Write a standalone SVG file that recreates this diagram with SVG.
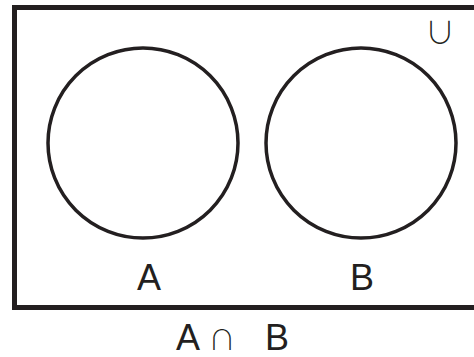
<svg xmlns="http://www.w3.org/2000/svg" width="474" height="357" viewBox="0 0 474 357">
<style>
.frame{fill:none;stroke:#231f20;stroke-width:5}
.set{fill:none;stroke:#231f20;stroke-width:3.5}
.lbl{font-family:"Liberation Sans",Arial,sans-serif;font-size:36px;fill:#231f20;text-anchor:middle}
.sym{font-family:"Noto Sans CJK JP","DejaVu Sans",sans-serif;font-weight:300;fill:#231f20;text-anchor:middle}
</style>
<rect width="474" height="357" fill="#fff"/>
<g id="universe">
<rect class="frame" x="14.5" y="7.5" width="470" height="300"/>
<text class="sym" x="440" y="43" font-size="30">∪</text>
</g>
<g id="setA">
<circle class="set" cx="143" cy="143" r="95"/>
<text class="lbl" x="149" y="290">A</text>
</g>
<g id="setB">
<circle class="set" cx="361" cy="143" r="95"/>
<text class="lbl" x="362" y="290">B</text>
</g>
<g id="caption">
<text class="lbl" x="188" y="350">A</text>
<text class="sym" x="222" y="350" font-size="27">∩</text>
<text class="lbl" x="277" y="350">B</text>
</g>
</svg>
